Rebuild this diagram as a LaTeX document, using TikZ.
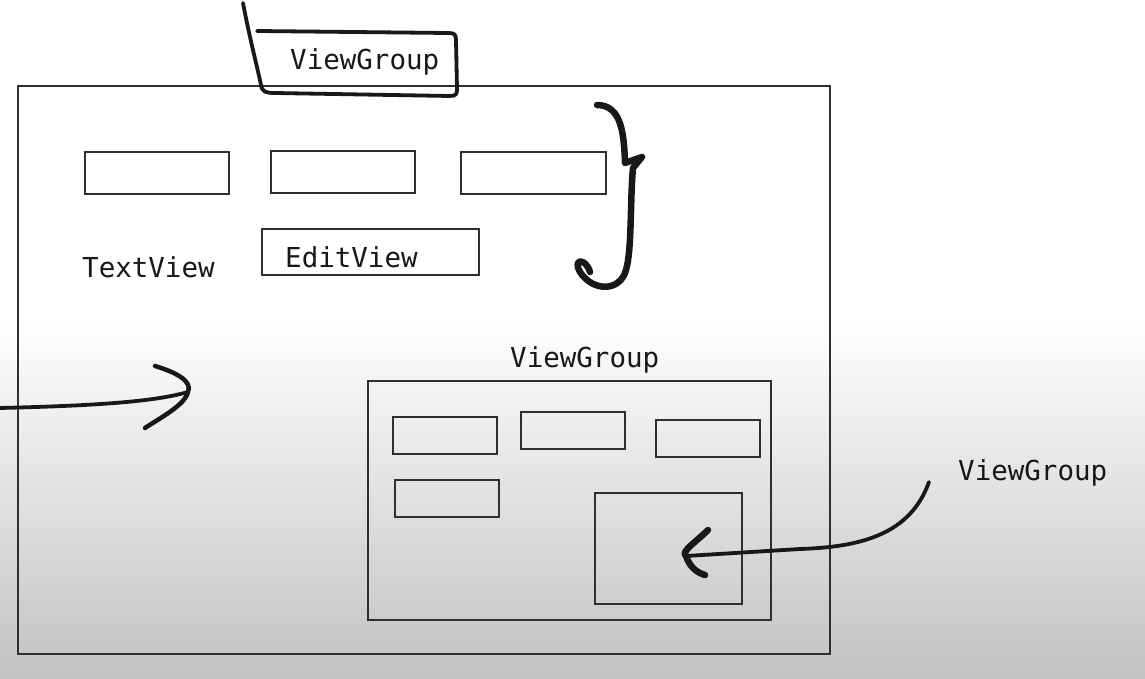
\documentclass[tikz,border=0pt]{standalone}
\usepackage{fontspec}
\setmonofont{DejaVu Sans Mono}
\usetikzlibrary{positioning}

\definecolor{bggrey}{RGB}{194,194,194}
\definecolor{ink}{RGB}{24,24,24}
\tikzset{
	box/.style={draw=ink!90, line width=1.6, inner sep=0, anchor=north west},
	lbl/.style={font=\ttfamily\fontsize{27.5}{30}\selectfont, text=ink, inner sep=0, anchor=base west},
	pen/.style={draw=ink, line width=3.8, line cap=round, line join=round},
	thickpen/.style={pen, line width=6.5}
}

\begin{document}
\begin{tikzpicture}[x=1pt, y=-1pt]
	\useasboundingbox (0,0) rectangle (1145,679);
	% background
	\fill[white] (0,0) rectangle (1145,679);
	\shade[top color=white, bottom color=bggrey] (0,320) rectangle (1145,679);

	% outer ViewGroup
	\node[box, minimum width=812, minimum height=568]	(outer)	at (17,85)	{};
	\node[box, minimum width=144, minimum height=42]	(row1)	at (84,151)	{};
	\node[box, minimum width=144, minimum height=42]	(row2)	at (270,150)	{};
	\node[box, minimum width=145, minimum height=42]	(row3)	at (460,151)	{};
	\node[box, minimum width=217, minimum height=46]	(edit)	at (261,228)	{};
	\node[lbl]	(editlbl)	at (285,267)	{EditView};
	\node[lbl]	(textlbl)	at (82,277)	{TextView};

	% inner ViewGroup
	\node[lbl]	(innerlbl)	at (510,367)	{ViewGroup};
	\node[box, minimum width=403, minimum height=239]	(inner)	at (367,380)	{};
	\node[box, minimum width=104, minimum height=37]	(in1)	at (392,416)	{};
	\node[box, minimum width=104, minimum height=37]	(in2)	at (520,411)	{};
	\node[box, minimum width=104, minimum height=37]	(in3)	at (655,419)	{};
	\node[box, minimum width=104, minimum height=37]	(in4)	at (394,479)	{};
	\node[box, minimum width=147, minimum height=111]	(nested)	at (594,492)	{};

	% top label with hand drawn frame
	\node[lbl]	(toplbl)	at (290,70)	{ViewGroup};
	\draw[pen] (243,3) .. controls (250,40) and (258,70) .. (261,85)
		.. controls (262,92) and (266,93) .. (275,93) -- (450,96)
		.. controls (456,96) and (457,94) .. (457,89) -- (456,40)
		.. controls (456,34) and (454,33) .. (448,33) -- (257,31);

	% brace
	\draw[thickpen] (597,105) .. controls (622,105) and (624,135) .. (625,163)
		-- (642,157) -- (633,168)
		.. controls (630,200) and (632,250) .. (626,270)
		.. controls (620,292) and (593,292) .. (580,272)
		.. controls (572,258) and (586,258) .. (590,272);

	% left arrow
	\coordinate	(lstart)	at (0,408);
	\coordinate	(ltip)	at (188,392);
	\draw[pen] (lstart) .. controls (80,406) and (150,403) .. (ltip);
	\draw[pen, line width=4.5] (155,366) .. controls (175,372) and (193,381) .. (ltip)
		.. controls (185,405) and (160,418) .. (145,428);

	% right label and arrow
	\node[lbl]	(rightlbl)	at (958,480)	{ViewGroup};
	\coordinate	(rstart)	at (929,482);
	\coordinate	(rtip)	at (686,556);
	\draw[pen] (rstart) .. controls (910,535) and (860,547) .. (800,549) -- (rtip);
	\draw[thickpen] (708,530) .. controls (696,542) and (680,552) .. (rtip)
		.. controls (690,568) and (698,573) .. (705,575);
\end{tikzpicture}
\end{document}
